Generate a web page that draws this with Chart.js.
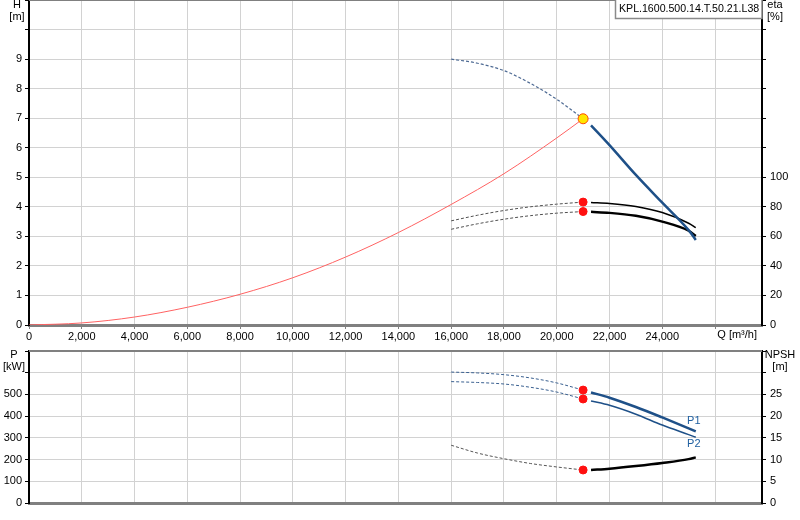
<!DOCTYPE html>
<html><head><meta charset="utf-8">
<script src="https://cdn.jsdelivr.net/npm/chart.js@4.4.0/dist/chart.umd.min.js"></script>
<style>
html,body{margin:0;padding:0;background:#fff;width:800px;height:520px;overflow:hidden}
#wrap{position:relative;width:800px;height:520px}
canvas{position:absolute;left:0}
</style></head><body>
<div id="wrap">
<canvas id="cTop" width="800" height="345" style="top:0"></canvas>
<canvas id="cBot" width="800" height="180" style="top:340px"></canvas>
</div>
<script>
const FONT = "'Liberation Sans', Arial, sans-serif";

// ---- data ----
const pumpName = "KPL.1600.500.14.T.50.21.L38";
const qMax = 27780;
const qTicks = [0, 2000, 4000, 6000, 8000, 10000, 12000, 14000, 16000, 18000, 20000, 22000, 24000, 26000];
// system curve
const qSys = [0, 2000, 4000, 6000, 8000, 10000, 12000, 14000, 16000, 18000, 20000, 21000];
const hSys = [0, 0.07, 0.27, 0.6, 1.04, 1.6, 2.3, 3.13, 4.08, 5.12, 6.33, 6.98];
// pump curves: dashed (out of range) and solid (operating range)
const qDash = [16000, 17000, 18000, 19000, 20000, 21000];
const qSolid = [21300, 22000, 23000, 24000, 25000, 25270];
const hDash = [9.0, 8.86, 8.61, 8.18, 7.64, 6.98];
const hSolid = [6.76, 6.09, 5.08, 4.14, 3.21, 2.88];
const eta1Dash = [70.5, 74.3, 77.5, 80.0, 81.8, 83.2];
const eta1Solid = [83.0, 82.3, 80.2, 76.1, 68.9, 65.9];
const eta2Dash = [64.8, 68.5, 71.6, 74.0, 75.7, 76.8];
const eta2Solid = [76.6, 75.9, 73.9, 70.0, 63.8, 60.2];
const p1Dash = [603, 599, 591, 576, 553, 520];
const p1Solid = [509, 485, 442, 394, 344, 330];
const p2Dash = [559, 555, 548, 533, 511, 479];
const p2Solid = [470, 450, 409, 359, 315, 303];
const npshDash = [13.3, 11.5, 10.2, 9.1, 8.3, 7.6];
const npshSolid = [7.6, 7.9, 8.5, 9.2, 10.1, 10.5];
// operating point
const qOp = 21000;
const hOp = 6.98, eta1Op = 83.2, eta2Op = 76.8, p1Op = 520, p2Op = 479, npshOp = 7.6;
// tick label limits
const hLabelMax = 9, etaLabelMax = 100, pLabelMax = 500, npshLabelMax = 25, qLabelMax = 24000;

// ---- helpers ----
const pts = (xs, ys) => xs.map((x, i) => ({x: x, y: ys[i]}));
function line(data, color, width, dash, axis) {
  return {type: 'line', data: data, borderColor: color, borderWidth: width, borderDash: dash || [],
    pointRadius: 0, fill: false, cubicInterpolationMode: 'monotone', yAxisID: axis, order: 2};
}
function dot(x, y, axis, fillC, borderC, r) {
  return {type: 'line', data: [{x: x, y: y}], showLine: false, pointRadius: r, pointBackgroundColor: fillC,
    pointBorderColor: borderC, pointBorderWidth: 1, yAxisID: axis, order: 0};
}
const tickFont = {family: FONT, size: 11};
function xScale(showLabels, height) {
  return {type: 'linear', min: 0, max: qMax,
    afterBuildTicks: s => { s.ticks = qTicks.map(v => ({value: v})); },
    afterFit: s => { s.height = height; s.paddingLeft = 0; s.paddingRight = 0; s.paddingTop = 0; s.paddingBottom = 0; },
    ticks: {display: showLabels, autoSkip: false, maxRotation: 0, minRotation: 0,
      padding: 1, color: '#000', font: tickFont,
      callback: v => v <= qLabelMax ? v.toLocaleString('en-US') : ''},
    grid: {color: '#d2d2d2', lineWidth: 1, drawTicks: showLabels, tickLength: 4, tickColor: '#808080'},
    border: {color: '#808080', width: 3}};
}
function fitY(w) {
  return s => { s.width = w; s.paddingTop = 0; s.paddingBottom = 0; s.paddingLeft = 0; s.paddingRight = 0; };
}
function yLeft(max, step, labelMax) {
  return {type: 'linear', position: 'left', min: 0, max: max, afterFit: fitY(29),
    ticks: {stepSize: step, maxTicksLimit: 100, padding: 3, color: '#000', font: tickFont, autoSkip: false,
      callback: v => v <= labelMax ? v : ''},
    grid: {color: '#d2d2d2', lineWidth: 1, tickLength: 4, tickColor: '#000'},
    border: {color: '#000', width: 2}};
}
function yRight(max, step, labelMax) {
  return {type: 'linear', position: 'right', min: 0, max: max, afterFit: fitY(38),
    ticks: {stepSize: step, maxTicksLimit: 100, padding: 4, color: '#000', font: tickFont, autoSkip: false,
      callback: v => v <= labelMax ? v : ''},
    grid: {drawOnChartArea: false, tickLength: 4, tickColor: '#000'},
    border: {color: '#000', width: 2}};
}
function txt(ctx, s, x, y, align, color, size) {
  ctx.save();
  ctx.font = (size || 11) + "px " + FONT;
  ctx.fillStyle = color || '#000';
  ctx.textAlign = align || 'center';
  ctx.textBaseline = 'middle';
  ctx.fillText(s, x, y);
  ctx.restore();
}
function topBorder(chart) {
  const a = chart.chartArea, ctx = chart.ctx;
  ctx.save();
  ctx.strokeStyle = '#808080'; ctx.lineWidth = 2;
  ctx.beginPath(); ctx.moveTo(a.left, a.top); ctx.lineTo(a.right, a.top); ctx.stroke();
  ctx.restore();
}
const baseOpts = {responsive: false, animation: false, events: [],
  layout: {padding: 0, autoPadding: false},
  plugins: {legend: {display: false}, tooltip: {enabled: false}}};

// ---- top chart ----
const topPlugin = {id: 'topTexts', afterDraw(chart) {
  const ctx = chart.ctx;
  topBorder(chart);
  txt(ctx, 'H', 17, 5);
  txt(ctx, '[m]', 17, 17);
  txt(ctx, 'eta', 775, 5);
  txt(ctx, '[%]', 775, 17);
  txt(ctx, 'Q [m\u00b3/h]', 757, 335, 'right');
  ctx.save();
  ctx.fillStyle = '#fff';
  ctx.fillRect(615, 0, 147, 18);
  ctx.strokeStyle = '#8a8a8a'; ctx.lineWidth = 1.5;
  ctx.strokeRect(615.5, -1, 146.5, 19.5);
  ctx.restore();
  txt(ctx, pumpName, 619, 9, 'left', '#000', 10.6);
}};
new Chart(document.getElementById('cTop'), {
  type: 'line',
  data: {datasets: [
    dot(qOp, hOp, 'y', '#ffe600', '#ff4a00', 5),
    dot(qOp, eta1Op, 'y2', '#ff1010', '#ff1010', 4),
    dot(qOp, eta2Op, 'y2', '#ff1010', '#ff1010', 4),
    line(pts(qSys, hSys), '#ff6262', 1, null, 'y'),
    line(pts(qDash, hDash), '#4f6b94', 1.2, [3, 2], 'y'),
    line(pts(qSolid, hSolid), '#1e5088', 2.5, null, 'y'),
    line(pts(qDash, eta1Dash), '#505050', 1, [3, 2], 'y2'),
    line(pts(qSolid, eta1Solid), '#000', 1.5, null, 'y2'),
    line(pts(qDash, eta2Dash), '#505050', 1, [3, 2], 'y2'),
    line(pts(qSolid, eta2Solid), '#000', 2.5, null, 'y2')
  ]},
  options: Object.assign({}, baseOpts, {
    scales: {x: xScale(true, 20), y: yLeft(11, 1, hLabelMax), y2: yRight(220, 20, etaLabelMax)}
  }),
  plugins: [topPlugin]
});

// ---- bottom chart ----
const botPlugin = {id: 'botTexts', afterDraw(chart) {
  const ctx = chart.ctx;
  topBorder(chart);
  txt(ctx, 'P', 14, 15);
  txt(ctx, '[kW]', 14, 27);
  txt(ctx, 'NPSH', 780, 15);
  txt(ctx, '[m]', 780, 27);
  const xs = chart.scales.x, ys = chart.scales.y;
  const n = qSolid.length - 1;
  const xe = xs.getPixelForValue(qSolid[n]);
  txt(ctx, 'P1', xe - 2, ys.getPixelForValue(p1Solid[n]) - 10, 'center', '#1f5fa0');
  txt(ctx, 'P2', xe - 2, ys.getPixelForValue(p2Solid[n]) + 7, 'center', '#1f5fa0');
}};
new Chart(document.getElementById('cBot'), {
  type: 'line',
  data: {datasets: [
    dot(qOp, p1Op, 'y', '#ff1010', '#ff1010', 4),
    dot(qOp, p2Op, 'y', '#ff1010', '#ff1010', 4),
    dot(qOp, npshOp, 'y2', '#ff1010', '#ff1010', 4),
    line(pts(qDash, p1Dash), '#3a6090', 1, [3, 2], 'y'),
    line(pts(qSolid, p1Solid), '#1e5088', 2.5, null, 'y'),
    line(pts(qDash, p2Dash), '#3a6090', 1, [3, 2], 'y'),
    line(pts(qSolid, p2Solid), '#1e5088', 1.5, null, 'y'),
    line(pts(qDash, npshDash), '#555', 1, [3, 2], 'y2'),
    line(pts(qSolid, npshSolid), '#000', 2.5, null, 'y2')
  ]},
  options: Object.assign({}, baseOpts, {
    layout: {padding: {top: 11, left: 0, right: 0, bottom: 0}, autoPadding: false},
    scales: {x: xScale(false, 17), y: yLeft(700, 100, pLabelMax), y2: yRight(35, 5, npshLabelMax)}
  }),
  plugins: [botPlugin]
});
</script>
</body></html>
